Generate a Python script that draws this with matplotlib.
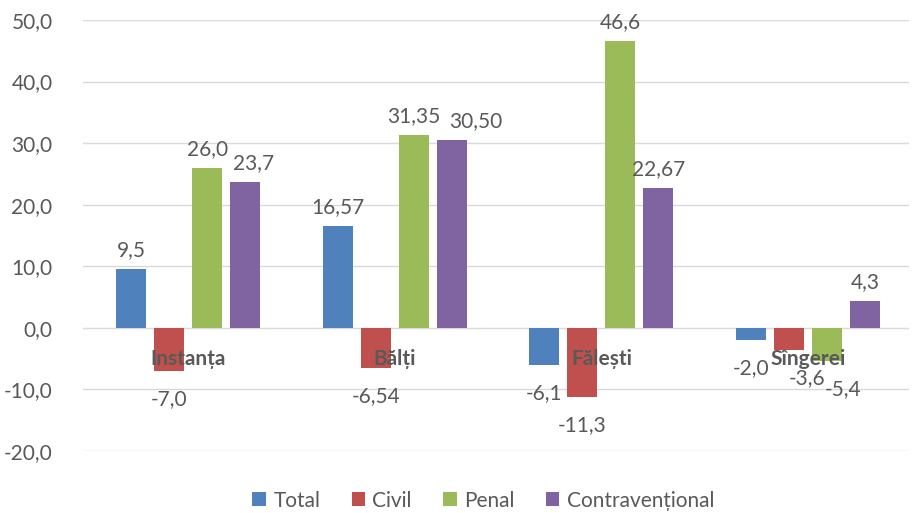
import numpy as np
import matplotlib.pyplot as plt
from matplotlib.ticker import FuncFormatter

categories = ["Instanța", "Bălți", "Fălești", "Sîngerei"]
series_names = ["Total", "Civil", "Penal", "Contravențional"]
total = [9.5, 16.57, -6.1, -2.0]
civil = [-7.0, -6.54, -11.3, -3.6]
penal = [26.0, 31.35, 46.6, -5.4]
contrav = [23.7, 30.50, 22.67, 4.3]
total_lbl = ["9,5", "16,57", "-6,1", "-2,0"]
civil_lbl = ["-7,0", "-6,54", "-11,3", "-3,6"]
penal_lbl = ["26,0", "31,35", "46,6", "-5,4"]
contrav_lbl = ["23,7", "30,50", "22,67", "4,3"]
colors = ["#4F81BD", "#C0504D", "#9BBB59", "#8064A2"]

plt.rcParams['font.family'] = ['Lato', 'DejaVu Sans']
gray = "#595959"

fig = plt.figure(figsize=(9.17, 5.13), dpi=100)
ax = fig.add_axes([0.0905, 0.121, 0.901, 0.840])

x = np.arange(len(categories))
width = 0.145
step = 0.184
all_vals = [total, civil, penal, contrav]
all_lbls = [total_lbl, civil_lbl, penal_lbl, contrav_lbl]
# small horizontal nudges so neighbouring labels don't collide
nudge = {(3, 0): 8, (3, 1): 24, (1, 3): 18, (2, 3): 16}
for i, (vals, lbls) in enumerate(zip(all_vals, all_lbls)):
    pos = x + (i - 1.5) * step + 0.01
    ax.bar(pos, vals, width, color=colors[i], label=series_names[i], zorder=2)
    for j, (p, v, t) in enumerate(zip(pos, vals, lbls)):
        dx = nudge.get((i, j), 0)
        if v >= 0:
            ax.annotate(t, (p, v), xytext=(dx, 9), textcoords="offset pixels",
                        ha="center", va="bottom", fontsize=15, color=gray)
        else:
            ax.annotate(t, (p, v), xytext=(dx, -18), textcoords="offset pixels",
                        ha="center", va="top", fontsize=15, color=gray)

for xi, c in zip(x, categories):
    ax.text(xi + 0.01, -5, c, ha="center", va="center", fontsize=15,
            fontweight="bold", color=gray, zorder=3)

ax.set_xlim(-0.5, len(categories) - 0.5)
ax.set_ylim(-20, 50)
ax.set_yticks(np.arange(-20, 51, 10))
ax.yaxis.set_major_formatter(FuncFormatter(lambda v, _: f"{v:.1f}".replace(".", ",")))
ax.tick_params(axis="y", length=0, labelsize=15, labelcolor=gray, pad=22)
ax.set_xticks([])
ax.grid(axis="y", color="#D9D9D9", linewidth=1, zorder=0)
for s in ax.spines.values():
    s.set_visible(False)

fig.legend(loc="lower center", bbox_to_anchor=(0.527, -0.032), ncol=4, frameon=False,
           fontsize=15, labelcolor=gray, handlelength=0.65, handleheight=0.65,
           handletextpad=0.35, columnspacing=1.5)

fig.savefig("out.png", dpi=100)
